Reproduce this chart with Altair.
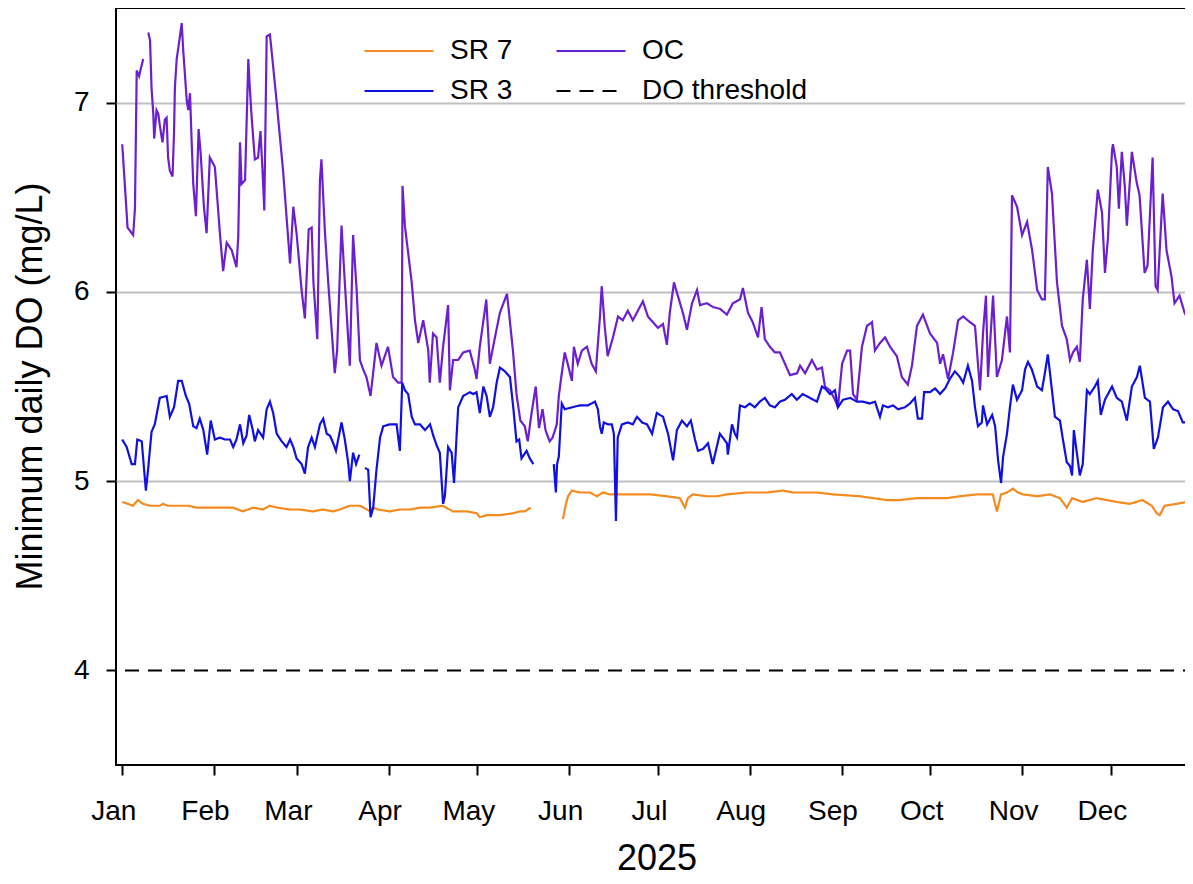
import altair as alt
import pandas as pd

# ---------------- data ----------------
# order = legend fill order (column-wise): SR 7, SR 3 | OC, DO threshold
series_names = ["SR 7", "SR 3", "OC", "DO threshold"]
series_colors = ["#f58a1f", "#1010e0", "#6b1fcf", "#000000"]
series_dash = [[1, 0], [1, 0], [1, 0], [14, 9]]

month_days = [0, 31, 59, 90, 120, 151, 181, 212, 243, 273, 304, 334]
month_labels = ["Jan", "Feb", "Mar", "Apr", "May", "Jun",
                "Jul", "Aug", "Sep", "Oct", "Nov", "Dec"]

y_ticks = [4, 5, 6, 7]
threshold = [4.0]

# OC (purple); None marks a gap in the record
oc_day = [0, 0.3, 1.8, 3.7, 4.3, 4.6, 4.9, 5.7, 6.6, 7.1, 8.0,
          8.8, 9.4, 9.9, 10.5, 10.8, 11.6, 12.2, 12.7, 13.6, 14.4, 15.0, 15.5, 16.1,
          17.0, 17.5, 17.8, 18.4, 19.5, 20.1, 20.6, 21.8, 22.3, 22.9, 23.4, 24.0, 24.9,
          25.8, 26.5, 27.6, 28.5, 29.6, 31.3, 33.0, 34.1, 35.3, 37.0, 38.6, 39.2, 39.8,
          40.3, 41.5, 42.6, 43.1, 43.7, 44.8, 45.9, 46.7, 47.4, 48.0, 48.8, 49.9, 51.0,
          52.2, 54.4, 56.7, 57.8, 58.9, 60.6, 61.7, 63.0, 64.0, 64.6, 65.9, 66.8, 67.3,
          68.5, 69.6, 71.8, 72.6, 74.1, 75.2, 76.9, 78.0, 79.2, 80.3, 81.4, 82.5, 83.9,
          85.9, 87.6, 89.8, 91.5, 93.2, 94.4, 94.7, 95.5, 97.8, 98.9, 100.0, 101.7, 103.4,
          103.9, 105.0, 106.2, 107.3, 108.4, 110.1, 110.7, 111.8, 113.5, 115.2, 117.4,
          119.1, 119.7, 120.8, 123.0, 124.2, 125.8, 127.6, 130.0, 132.0, 133.2, 134.5,
          136.0, 137.0, 138.3, 139.7, 140.8, 142.0, 143.0, 144.4, 145.4, 146.8, 147.5,
          148.5, 149.5, 150.5, 151.9, 152.6, 153.9, 155.3, 157.0, 158.6, 160.0, 161.4,
          162.0, 163.0, 164.0, 165.8, 167.5, 169.1, 170.8, 172.5, 174.2, 175.9, 177.6,
          179.3, 181.0, 182.7, 184.0, 185.0, 186.4, 187.7, 189.4, 190.8, 192.5, 194.2,
          195.2, 197.5, 199.6, 202.0, 204.3, 206.3, 208.7, 209.7, 211.4, 213.0, 214.8,
          216.0, 217.1, 218.8, 220.5, 222.2, 223.9, 225.6, 228.0, 229.0, 230.7, 233.0,
          234.7, 236.4, 237.4, 239.1, 240.8, 241.8, 243.2, 244.9, 245.9, 246.9, 248.2,
          249.9, 251.6, 253.3, 254.3, 256.0, 257.7, 259.4, 261.7, 263.4, 265.4, 266.8,
          268.5, 270.5, 272.9, 275.3, 276.3, 277.3, 279.0, 280.7, 282.4, 284.1, 286.4,
          288.1, 289.8, 290.8, 291.8, 292.5, 294.2, 295.5, 297.2, 298.9, 299.9, 300.6,
          302.3, 304.0, 305.7, 307.4, 309.1, 310.7, 311.7, 312.7, 314.1, 315.8, 317.5,
          319.1, 320.2, 321.2, 322.5, 323.5, 324.5, 325.9, 326.9, 327.9, 329.6, 331.0,
          332.0, 333.0, 334.4, 334.7, 336.0, 336.7, 337.7, 338.7, 339.4, 341.1, 342.7,
          343.7, 345.4, 346.4, 348.1, 349.1, 349.8, 351.5, 352.8, 354.5, 355.5, 357.2,
          358.9, 359.9, 361.2, 362.5]
oc_val = [6.78, 6.71, 6.34, 6.30, 6.44, 6.80, 7.17, 7.14, 7.20, 7.23, None,
          7.37, 7.33, 7.08, 6.94, 6.81, 6.96, 6.94, 6.88, 6.79, 6.91, 6.92, 6.71, 6.64,
          6.61, 6.84, 7.08, 7.23, 7.35, 7.42, 7.28, 7.01, 6.96, 7.05, 6.82, 6.57, 6.40,
          6.86, 6.73, 6.45, 6.31, 6.71, 6.66, 6.31, 6.11, 6.26, 6.22, 6.13, 6.29, 6.79,
          6.57, 6.59, 7.23, 7.08, 6.93, 6.70, 6.71, 6.85, 6.64, 6.43, 7.35, 7.36, 7.19,
          7.00, 6.63, 6.15, 6.45, 6.31, 6.01, 5.86, 6.33, 6.34, 6.05, 5.75, 6.59, 6.70,
          6.31, 6.05, 5.57, 5.69, 6.35, 6.05, 5.61, 6.30, 6.01, 5.64, 5.59, 5.55, 5.45,
          5.73, 5.61, 5.71, 5.55, 5.52, 5.52, 6.56, 6.35, 6.05, 5.85, 5.73, 5.85, 5.69,
          5.52, 5.78, 5.76, 5.52, 5.71, 5.93, 5.48, 5.64, 5.64, 5.68, 5.69,
          5.59, 5.54, 5.71, 5.96, 5.62, 5.75, 5.89, 5.99, 5.69, 5.46, 5.32,
          5.29, 5.21, 5.36, 5.50, 5.28, 5.38, 5.27, 5.21, 5.23, 5.30, 5.45,
          5.57, 5.68, 5.62, 5.53, 5.71, 5.62, 5.69, 5.71, 5.62, 5.58, 5.87,
          6.03, 5.82, 5.66, 5.76, 5.87, 5.85, 5.90, 5.85, 5.90, 5.95, 5.87,
          5.84, 5.81, 5.83, 5.72, 5.89, 6.05, 5.98, 5.89, 5.80, 5.94, 6.01,
          5.93, 5.94, 5.92, 5.91, 5.88, 5.94, 5.96, 6.02, 5.89, 5.84, 5.76,
          5.92, 5.75, 5.71, 5.68, 5.68, 5.62, 5.56, 5.57, 5.61, 5.57, 5.64,
          5.59, 5.60, 5.50, 5.48, 5.43, 5.39, 5.62, 5.69, 5.69, 5.46, 5.43,
          5.71, 5.82, 5.84, 5.69, 5.73, 5.76, 5.71, 5.66, 5.55, 5.51, 5.61,
          5.82, 5.88, 5.78, 5.73, 5.62, 5.67, 5.54, 5.68, 5.85, 5.87, 5.84,
          5.82, 5.48, 5.78, 5.98, 5.55, 5.98, 5.55, 5.64, 5.87, 5.68, 6.51,
          6.45, 6.30, 6.37, 6.22, 6.01, 5.96, 5.96, 6.66, 6.52, 6.05, 5.82,
          5.75, 5.64, 5.68, 5.71, 5.63, 5.96, 6.17, 5.91, 6.22, 6.54, 6.42,
          6.10, 6.28, 6.75, 6.78, 6.66, 6.44, 6.74, 6.56, 6.35, 6.74, 6.58,
          6.51, 6.10, 6.14, 6.71, 6.03, 6.01, 6.52, 6.22, 6.08, 5.94, 5.98,
          5.89, 5.86, 6.44, 6.62]

# SR 3 (blue)
sr3_day = [0, 1.5, 3.2, 4.3, 5.1, 6.6, 7.4, 8.0, 8.8, 9.9, 11.0, 12.7, 15.0, 16.1,
           17.5, 18.9, 20.1, 21.5, 22.6, 24.0, 25.1, 26.2, 27.4, 28.7, 29.9, 31.3, 33.0,
           34.7, 36.4, 37.5, 38.6, 39.8, 40.9, 42.0, 42.9, 44.1, 44.8, 45.9, 47.6, 48.8,
           49.9, 51.0, 52.2, 53.9, 55.5, 56.7, 57.8, 58.9, 60.6, 61.7, 62.8, 64.0, 65.1,
           66.8, 67.9, 69.1, 70.2, 71.3, 72.2, 74.1, 75.2, 76.4, 76.9, 78.0, 79.0, 80.1,
           81.0,
           82.0, 83.1, 83.9, 84.8, 85.9, 87.1, 88.2, 90.4, 92.7, 93.8, 94.6, 95.5, 96.6,
           97.8, 98.9, 100.6, 102.3, 104.0, 105.1, 106.2, 107.3, 108.4, 109.0, 110.1,
           111.3, 112.1, 113.5, 115.2, 117.5, 118.6, 119.7, 120.8, 122.0, 123.1, 124.2,
           125.3, 126.5, 127.6, 129.3, 131.0, 132.1, 133.2, 134.1, 134.9, 136.6, 137.7,
           138.9, 142.0,
           145.8, 146.5, 146.9, 147.5, 148.5, 149.5, 151.9, 154.6, 157.3, 159.7, 160.7,
           161.4, 162.0, 162.7, 164.1, 165.4, 166.1, 166.8, 167.4, 168.8, 170.8, 172.5,
           173.9, 175.6, 177.3, 179.0, 180.6, 182.7, 184.4, 186.1, 187.4, 189.1, 190.8,
           192.1, 193.5, 194.5, 196.2, 197.9, 199.5, 201.9, 202.9, 204.3, 204.6, 206.0,
           207.0, 207.7, 208.7, 210.4, 212.0, 213.7, 215.4, 217.1, 218.8, 220.5, 222.2,
           223.9, 226.2, 227.9, 229.9, 232.3, 234.7, 236.4, 237.4, 239.1, 240.8, 241.8,
           243.5, 245.9, 248.2, 250.2, 252.6, 254.3, 256.0, 257.0, 258.7, 260.4, 262.1,
           264.4, 266.1, 267.8, 268.8, 270.2, 270.9, 272.9, 274.6, 276.3, 278.0, 279.6,
           281.3, 283.0, 284.1, 285.7, 287.1, 288.1, 289.1, 290.4, 290.8, 292.2, 293.9,
           294.9, 295.9, 296.9, 297.6, 298.9, 299.9, 300.9, 302.3, 304.0, 305.0, 306.0,
           307.3, 309.1, 310.7, 311.7, 312.7, 314.1, 315.1, 316.8, 317.8, 319.1, 320.2,
           320.9, 321.5, 322.5, 323.5, 324.5, 325.9, 326.9, 328.6, 329.6, 330.6, 332.0,
           334.4, 336.0, 337.7, 339.4, 341.1, 342.8, 343.8, 345.5, 347.2, 348.5, 349.9,
           351.6, 353.3, 355.0, 356.7, 358.3, 360.7, 361.7]
sr3_val = [5.22, 5.18, 5.09, 5.09, 5.22, 5.21, 5.06, 4.95, 5.07, 5.26, 5.30, 5.44, 5.45, 5.34,
           5.39, 5.53, 5.53, 5.45, 5.41, 5.29, 5.28, 5.33, 5.27, 5.14, 5.32, 5.22, 5.23,
           5.22, 5.22, 5.18, 5.22, 5.30, 5.20, 5.24, 5.35, 5.27, 5.21, 5.27, 5.23, 5.38,
           5.42, 5.36, 5.25, 5.21, 5.18, 5.22, 5.18, 5.12, 5.09, 5.04, 5.18, 5.23, 5.18,
           5.30, 5.33, 5.25, 5.24, 5.20, 5.16, 5.31, 5.22, 5.09, 5.00, 5.15, 5.09, 5.14,
           None,
           5.07, 5.06, 4.81, 4.86, 5.06, 5.23, 5.29, 5.30, 5.30, 5.16, 5.52, 5.48, 5.46,
           5.34, 5.30, 5.30, 5.27, 5.30, 5.24, 5.19, 5.15, 4.88, 4.92, 5.18,
           5.15, 4.99, 5.39, 5.45, 5.47, 5.46, 5.47, 5.36, 5.50, 5.45, 5.34,
           5.39, 5.52, 5.60, 5.58, 5.55, 5.39, 5.21, 5.22, 5.12, 5.16, 5.12,
           5.09, None,
           5.09, 4.94, 5.09, 5.13, 5.41, 5.38, 5.39, 5.40, 5.40, 5.42, 5.38,
           5.29, 5.25, 5.31, 5.30, 5.30, 5.25, 4.79, 5.23, 5.30, 5.31, 5.30,
           5.34, 5.31, 5.30, 5.25, 5.36, 5.34, 5.25, 5.11, 5.27, 5.32, 5.29,
           5.32, 5.22, 5.16, 5.17, 5.20, 5.09, 5.25, 5.23, 5.20, 5.14, 5.30,
           5.25, 5.23, 5.40, 5.39, 5.41, 5.39, 5.42, 5.44, 5.40, 5.39, 5.42,
           5.43, 5.46, 5.43, 5.46, 5.44, 5.42, 5.50, 5.49, 5.46, 5.48, 5.39,
           5.43, 5.44, 5.42, 5.42, 5.41, 5.42, 5.34, 5.40, 5.39, 5.40, 5.38,
           5.39, 5.41, 5.44, 5.33, 5.33, 5.47, 5.47, 5.49, 5.46, 5.49, 5.54,
           5.58, 5.55, 5.52, 5.61, 5.53, 5.39, 5.29, 5.31, 5.40, 5.30, 5.35,
           5.29, 5.11, 4.99, 5.13, 5.25, 5.39, 5.51, 5.43, 5.48, 5.59, 5.63,
           5.59, 5.50, 5.48, 5.57, 5.67, 5.48, 5.34, 5.32, 5.22, 5.10, 5.08,
           5.03, 5.27, 5.15, 5.03, 5.09, 5.48, 5.46, 5.50, 5.53, 5.35, 5.43,
           5.50, 5.44, 5.42, 5.32, 5.50, 5.55, 5.61, 5.44, 5.42, 5.17, 5.23,
           5.39, 5.42, 5.38, 5.37, 5.31, 5.31, 5.45]

# SR 7 (orange)
sr7_day = [0, 1.9, 3.6, 5.3, 7.0, 9.4, 12.7, 13.8, 15.4, 18.5, 22.2, 25.2, 27.3, 32.0,
           37.4, 40.8, 44.2, 47.5, 49.9, 52.3, 56.7, 60.0, 64.4, 67.8, 71.2, 73.5, 76.9,
           80.3, 82.7, 83.7, 84.7, 86.4, 90.4, 93.8, 97.2, 100.6, 103.9, 108.3, 111.7,
           116.5, 119.8, 120.8, 123.2, 127.6, 132.0, 134.4, 136.0, 138.0, 143.0,
           148.9, 149.9, 150.6, 151.9, 154.6, 158.0, 160.4, 162.4, 164.7, 170.5, 178.3,
           184.0, 188.4, 190.1, 191.1, 192.8, 197.5, 200.9, 204.3, 211.0, 217.8, 223.2,
           226.6, 234.7, 240.1, 249.2, 258.3, 262.7, 268.5, 278.6, 283.0, 288.7, 294.1,
           295.5, 296.9, 298.9, 300.9, 302.6, 304.3, 309.1, 313.4, 316.8, 319.1, 320.9,
           324.5, 329.2, 332.6, 336.0, 340.4, 344.7, 347.8, 349.5, 350.5, 352.2, 356.2,
           359.7, 361.7]
sr7_val = [4.89, 4.88, 4.87, 4.90, 4.88, 4.87, 4.87, 4.88, 4.87, 4.87, 4.87, 4.86, 4.86, 4.86,
           4.86, 4.84, 4.86, 4.85, 4.87, 4.86, 4.85, 4.85, 4.84, 4.85, 4.84, 4.85, 4.87,
           4.87, 4.85, 4.84, 4.86, 4.85, 4.84, 4.85, 4.85, 4.86, 4.86, 4.87, 4.84,
           4.84, 4.83, 4.81, 4.82, 4.82, 4.83, 4.84, 4.84, 4.86, None,
           4.80, 4.88, 4.92, 4.95, 4.94, 4.94, 4.92, 4.94, 4.93, 4.93, 4.93,
           4.92, 4.91, 4.86, 4.91, 4.93, 4.92, 4.92, 4.93, 4.94, 4.94, 4.95,
           4.94, 4.94, 4.93, 4.92, 4.90, 4.90, 4.91, 4.91, 4.92, 4.93, 4.93,
           4.84, 4.93, 4.94, 4.96, 4.94, 4.93, 4.92, 4.93, 4.91, 4.86, 4.91,
           4.89, 4.91, 4.90, 4.89, 4.88, 4.90, 4.87, 4.83, 4.82, 4.87, 4.88,
           4.89, 4.90]

# ---------------- table ----------------
rows = []
for name, days, vals in [("SR 7", sr7_day, sr7_val),
                         ("OC", oc_day, oc_val),
                         ("SR 3", sr3_day, sr3_val)]:
    seg = 0
    for d, v in zip(days, vals):
        if v is None:
            seg += 1
            continue
        rows.append({"series": name, "seg": f"{name}-{seg}", "day": d, "do": v})
df = pd.DataFrame(rows)
thr = pd.DataFrame({"series": ["DO threshold"] * len(threshold), "do": threshold})

FONT = "Liberation Sans"

label_expr = ("[" + ",".join(f"'{m}'" for m in month_labels) + "][indexof(["
              + ",".join(str(d) for d in month_days) + "], datum.value)]")

# wide stroke glyph drawn from a small symbol size, so rows stay compact
legend = alt.Legend(
    orient="none", legendX=269, legendY=29, columns=2, title=None,
    symbolType="M-3,0H3", symbolSize=529, symbolStrokeWidth=2,
    symbolFillColor="transparent",
    labelFont=FONT, labelFontSize=28, labelColor="black", labelOffset=37,
    labelLimit=400, columnPadding=39, rowPadding=12, padding=0,
    labelExpr="datum.label === 'SR 7' ? '\u00a0SR 7' : datum.label",
)

color = alt.Color("series:N", scale=alt.Scale(domain=series_names, range=series_colors),
                  legend=legend)
dash = alt.StrokeDash("series:N", scale=alt.Scale(domain=series_names, range=series_dash),
                      legend=legend)

x = alt.X("day:Q",
          scale=alt.Scale(domain=[-2.1, 363.1], nice=False, zero=False),
          axis=alt.Axis(values=month_days, labelExpr=label_expr, title="2025",
                        domain=False, grid=False, tickSize=10, tickWidth=2,
                        tickColor="black", labelFont=FONT, labelFontSize=28,
                        labelColor="black", labelBaseline="alphabetic", labelPadding=44,
                        labelOffset=-9, labelFlush=False, labelOverlap=False,
                        titleFont=FONT, titleFontSize=36, titleFontWeight="normal",
                        titleColor="black", titleBaseline="alphabetic", titleY=104))

y = alt.Y("do:Q",
          scale=alt.Scale(domain=[3.5, 7.5], nice=False, zero=False),
          axis=alt.Axis(values=y_ticks, format="d", title="Minimum daily DO (mg/L)",
                        domain=False, grid=True, gridColor="#c0c0c0", gridWidth=2,
                        gridOpacity={"condition": {"test": "datum.value === 4", "value": 0},
                                     "value": 1},
                        tickSize=10, tickWidth=2, tickColor="black",
                        labelFont=FONT, labelFontSize=28, labelColor="black",
                        labelPadding=17,
                        titleFont=FONT, titleFontSize=36, titleFontWeight="normal",
                        titleColor="black", titleX=-86, titleY=378,
                        titleBaseline="middle", titleAngle=-90))

lines = alt.Chart(df).mark_line(strokeWidth=2.2, clip=True).encode(
    x=x, y=y, color=color, strokeDash=dash, detail="seg:N",
    order="day:Q",
)
rule = alt.Chart(thr).mark_rule(strokeWidth=2).encode(
    y=alt.Y("do:Q"), color=color, strokeDash=dash,
)

chart = alt.layer(rule, lines).properties(
    width=1081, height=757,
    autosize=alt.AutoSizeParams(type="none"),
    padding={"left": 108, "top": 0, "right": -12, "bottom": 111},
).configure(background="white").configure_view(stroke="black", strokeWidth=2)

chart.save("out.html", embed_options={"renderer": "svg", "actions": False})
